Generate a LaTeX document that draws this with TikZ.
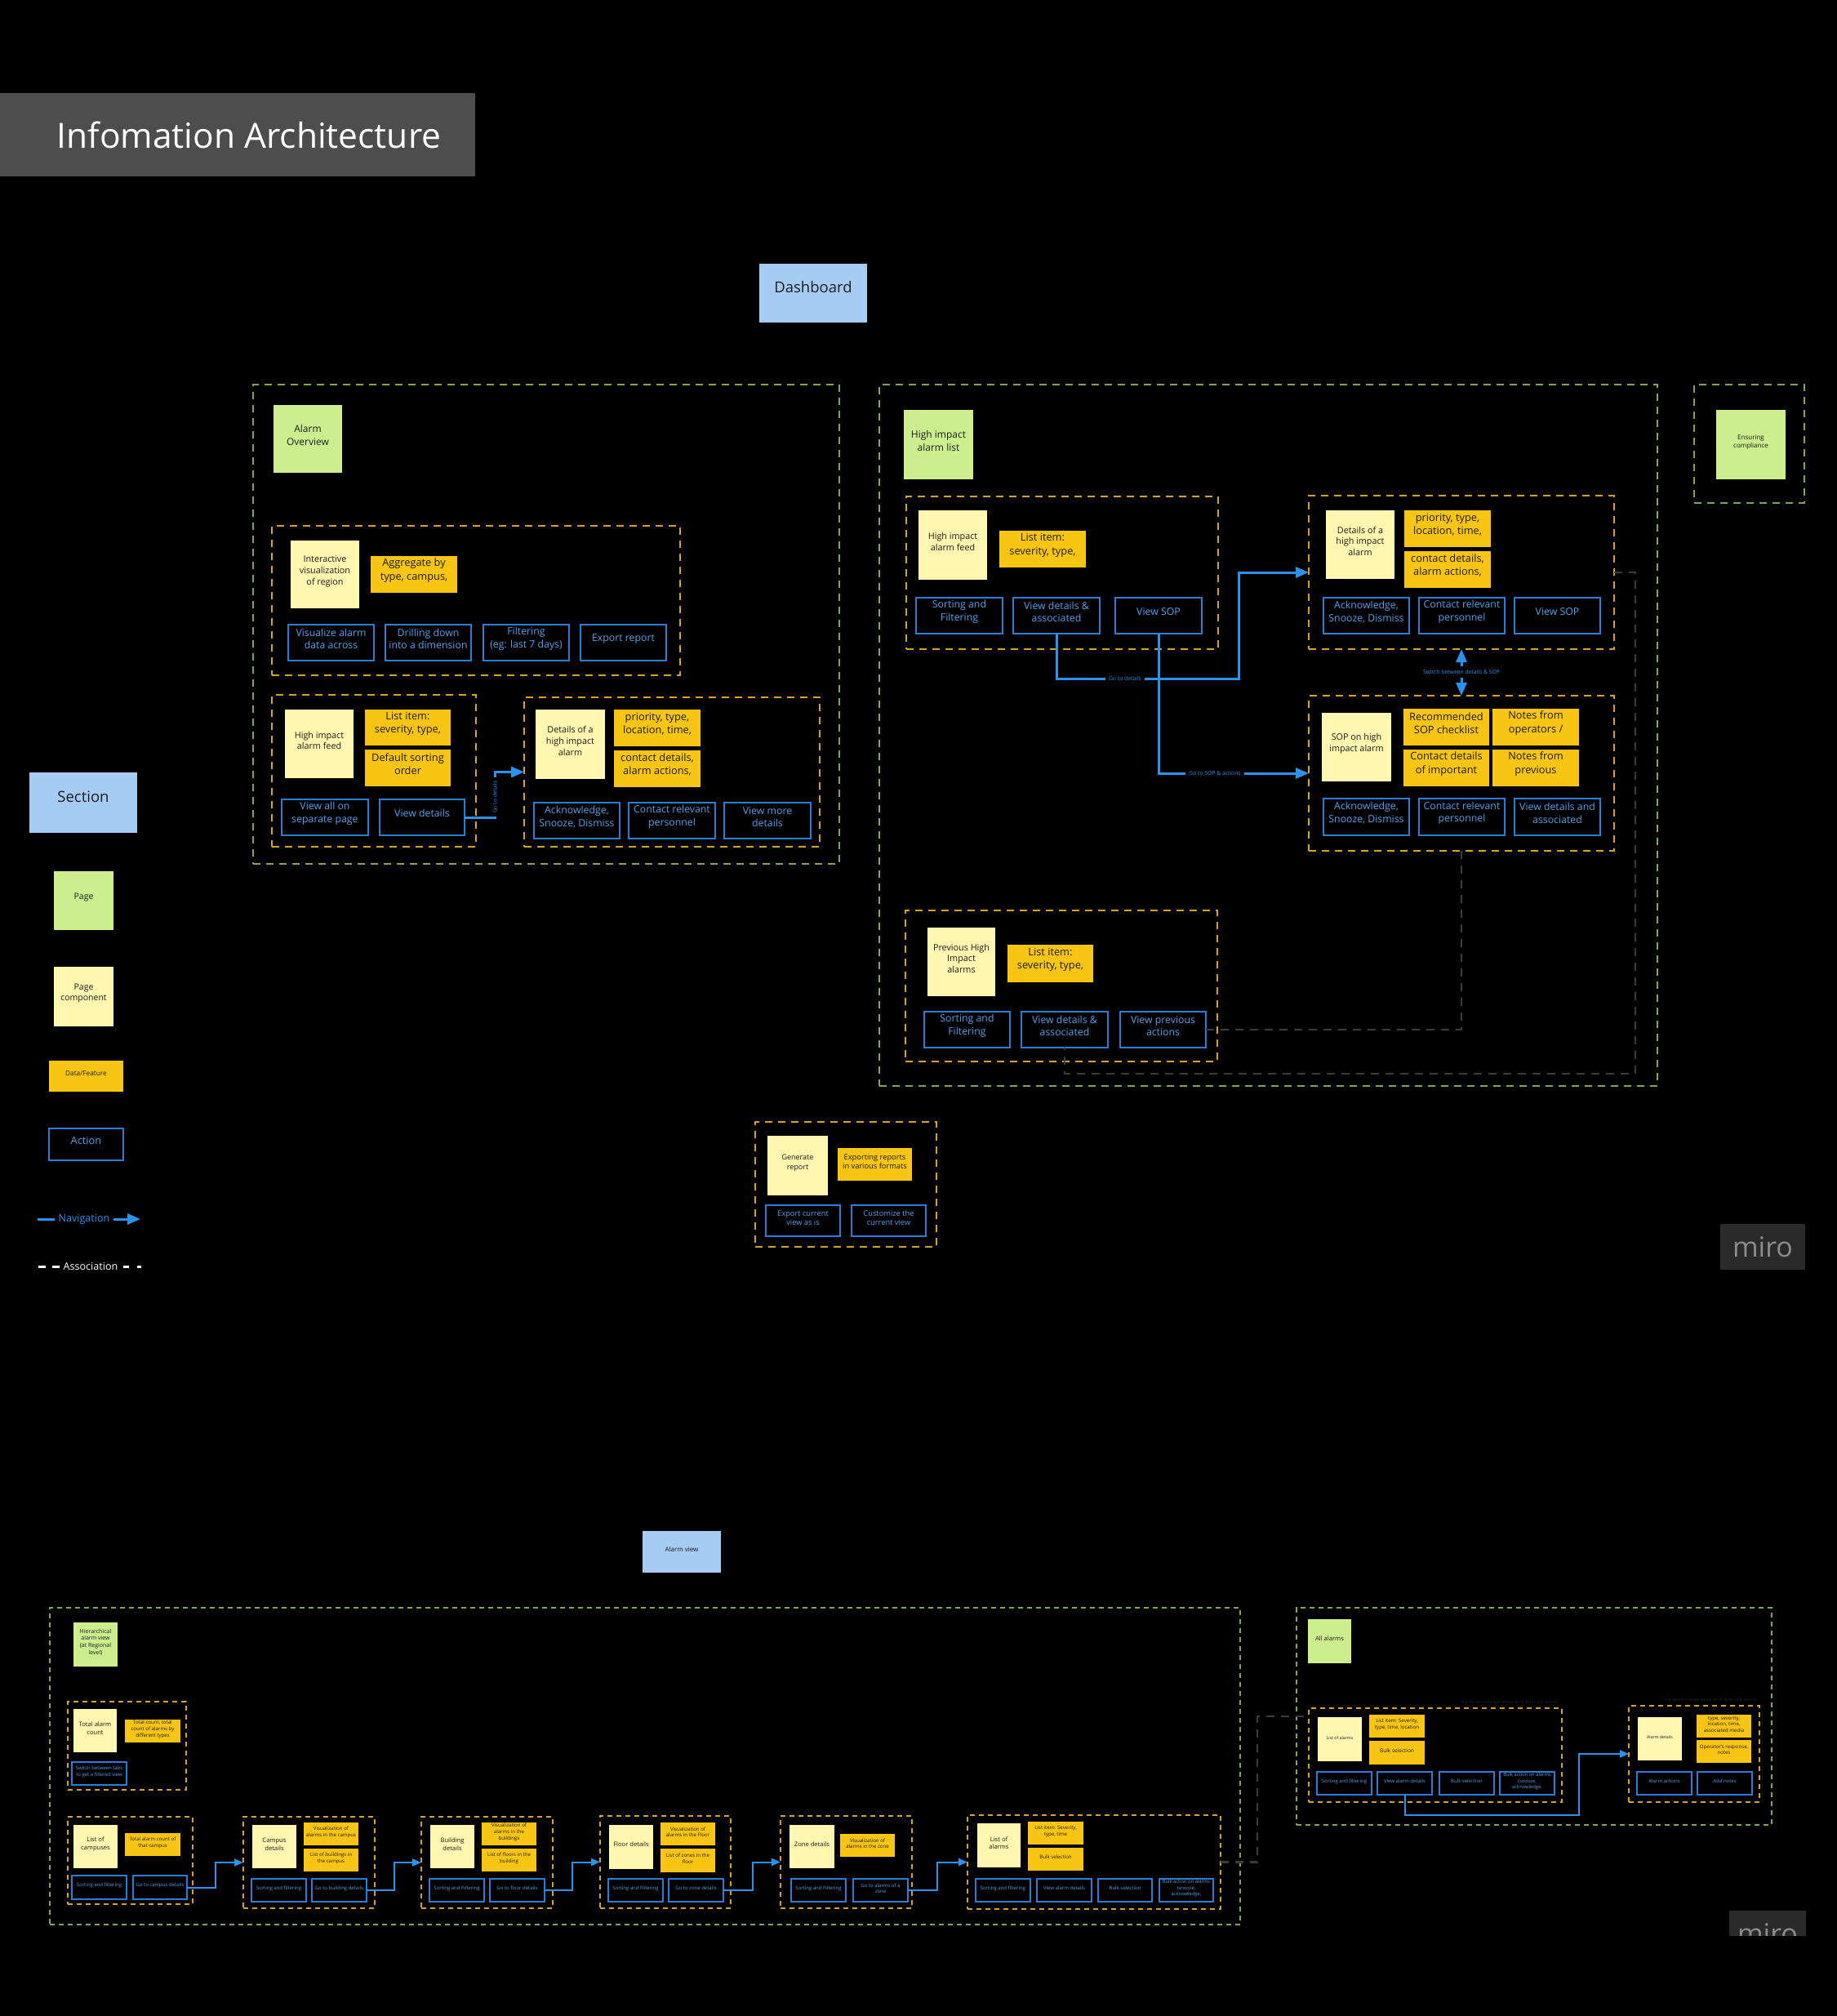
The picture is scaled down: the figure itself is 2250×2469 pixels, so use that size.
\documentclass[tikz,border=0pt]{standalone}
\usepackage{fontspec}
\setmainfont{Open Sans}
\usetikzlibrary{fit,arrows.meta}
\definecolor{titlegray}{HTML}{4D4D4D}
\definecolor{secblue}{HTML}{A6CCF3}
\definecolor{pagegreen}{HTML}{CDEE8E}
\definecolor{compyellow}{HTML}{FFF6B0}
\definecolor{dataorange}{HTML}{F9C514}
\definecolor{actblue}{HTML}{2F7CD3}
\definecolor{acttext}{HTML}{5AA2EA}
\definecolor{grporange}{HTML}{D3A233}
\definecolor{sectgreen}{HTML}{7FA851}
\definecolor{navblue}{HTML}{2C93EC}
\definecolor{assocgray}{HTML}{3C3C3C}
\definecolor{textdark}{HTML}{1C1C1C}
\definecolor{mirobox}{HTML}{2A2A2A}
\definecolor{mirotext}{HTML}{8C8C8C}
\definecolor{faint}{HTML}{2A2A2A}
\newcommand\pxf[1]{\fontsize{\fpeval{0.2845*#1}}{\fpeval{0.2845*1.28*#1}}\selectfont}
\newcommand\B[7]{\node[#1,fit={(#3,#4)(#5,#6)}] (#2) {#7};}
\tikzset{
 bx/.style={inner sep=0pt,outer sep=0pt,align=center},
 secN/.style={bx,fill=secblue,text=textdark},
 pageN/.style={bx,fill=pagegreen,text=textdark},
 compN/.style={bx,fill=compyellow,text=textdark},
 dataN/.style={bx,fill=dataorange,text=textdark},
 actN/.style={bx,draw=actblue,line width=0.2mm,text=acttext},
 pgL/.style={pageN,font=\pxf{12}},
 cpL/.style={compN,font=\pxf{10.8}},
 dtL/.style={dataN,font=\pxf{12.8}},
 acL/.style={actN,font=\pxf{12.3}},
 pgS/.style={pageN,font=\pxf{7}},
 cpS/.style={compN,font=\pxf{7.6}},
 dtS/.style={dataN,font=\pxf{6.1}},
 acS/.style={actN,line width=0.14mm,font=\pxf{6}},
 grp/.style={bx,draw=grporange,line width=0.2mm,dash pattern=on 0.9mm off 0.7mm},
 grpS/.style={bx,draw=grporange,line width=0.15mm,dash pattern=on 0.6mm off 0.5mm},
 sectB/.style={bx,draw=sectgreen,line width=0.2mm,dash pattern=on 0.9mm off 0.7mm},
 sectS/.style={bx,draw=sectgreen,line width=0.15mm,dash pattern=on 0.6mm off 0.5mm},
 nav/.style={draw=navblue,line width=0.3mm,-{Triangle[length=1.6mm,width=1.3mm]}},
 navS/.style={draw=navblue,line width=0.2mm,-{Triangle[length=1.1mm,width=0.9mm]}},
 assoc/.style={draw=assocgray,line width=0.25mm,dash pattern=on 1mm off 0.8mm},
 lbl/.style={fill=black,text=navblue,inner sep=0.4mm,font=\pxf{6.8}},
}
\begin{document}
\begin{tikzpicture}[x=0.1mm,y=-0.1mm]
\useasboundingbox (0,0) rectangle (2250,2469);
\fill[black] (0,0) rectangle (2250,2469);

% title
\node[bx,fill=titlegray,fit={(0,114)(582,216)}] (titlebox) {};
\node[anchor=west,text=white,font=\pxf{42.5},inner sep=0pt] (title) at (69,165) {Infomation Architecture};

% dashboard
\B{secN,font=\pxf{18.5}}{dash}{930}{323}{1062}{395}{Dashboard}

% legend
\B{secN,font=\pxf{18.5}}{lsec}{36}{946}{168}{1020}{Section}
\B{pageN,font=\pxf{10.5}}{lpage}{66}{1067}{139}{1139}{Page}
\B{compN,font=\pxf{10.5}}{lcomp}{66}{1184}{139}{1257}{Page\\component}
\B{dataN,font=\pxf{8.3}}{ldata}{60}{1299}{151}{1337}{Data/Feature}
\B{actN,font=\pxf{12.8}}{lact}{60}{1382}{151}{1421}{Action}
\node[text=navblue,font=\pxf{12.6},inner sep=0pt] (lnav) at (103,1493) {Navigation};
\coordinate (ln0) at (46,1493);
\coordinate (ln1) at (139,1493);
\coordinate (ln2) at (172,1493);
\draw[draw=navblue,line width=0.3mm,shorten >=0.4mm] (ln0) -- (lnav.west);
\draw[nav] (ln1) -- (ln2);
\node[text=white,font=\pxf{12.6},inner sep=0pt] (lasc) at (111,1551) {Association};
\draw[white,line width=0.3mm] (47,1551) -- (56,1551) (64,1551) -- (73,1551) (151,1551) -- (158,1551) (168,1551) -- (173,1551);

% ===== Alarm Overview section =====
\B{sectB}{s1}{310}{471}{1028}{1058}{}
\B{pgL}{ao}{335}{496}{419}{579}{Alarm\\Overview}
\B{grp}{g1}{333}{644}{833}{827}{}
\B{cpL}{iv}{356}{662}{440}{745}{Interactive\\visualization\\of region}
\B{dtL}{ag}{454}{681}{560}{726}{Aggregate by\\type, campus,}
\B{acL}{a1}{353}{765}{458}{809}{Visualize alarm\\data across}
\B{acL}{a2}{472}{765}{577}{809}{Drilling down\\into a dimension}
\B{acL}{a3}{592}{765}{697}{809}{Filtering\\(eg: last 7 days)}
\B{acL}{a4}{711}{765}{816}{809}{Export report}
\B{grp}{g2}{333}{851}{583}{1037}{}
\B{cpL}{hf}{349}{869}{433}{953}{High impact\\alarm feed}
\B{dtL}{li}{447}{869}{552}{913}{List item:\\severity, type,}
\B{dtL}{ds}{447}{918}{552}{963}{Default sorting\\order}
\B{acL}{va}{345}{979}{451}{1023}{View all on\\separate page}
\B{acL}{vd}{465}{979}{569}{1023}{View details}
\B{grp}{g3}{642}{854}{1004}{1037}{}
\B{cpL}{dh}{656}{869}{741}{954}{Details of a\\high impact\\alarm}
\B{dtL}{pr}{752}{869}{858}{914}{priority, type,\\location, time,}
\B{dtL}{cd}{752}{919}{858}{964}{contact details,\\alarm actions,}
\B{acL}{b1}{654}{983}{759}{1027}{Acknowledge,\\Snooze, Dismiss}
\B{acL}{b2}{770}{983}{876}{1027}{Contact relevant\\personnel}
\B{acL}{b3}{887}{983}{993}{1027}{View more\\details}
\draw[nav] (vd.east) -- ++(37,0) |- (g3.west);
\node[lbl,rotate=90] (lblA) at (606,976) {Go to details};

% ===== High impact alarm list section =====
\B{sectB}{s2}{1077}{471}{2030}{1330}{}
\B{pgL}{hl}{1107}{502}{1192}{587}{High impact\\alarm list}
\B{grp}{g4}{1110}{608}{1492}{795}{}
\B{cpL}{hf2}{1125}{625}{1209}{710}{High impact\\alarm feed}
\B{dtL}{li2}{1224}{650}{1330}{695}{List item:\\severity, type,}
\B{acL}{c1}{1122}{732}{1228}{776}{Sorting and\\Filtering}
\B{acL}{c2}{1241}{732}{1347}{776}{View details \&\\associated}
\B{acL}{c3}{1366}{732}{1472}{776}{View SOP}
\B{grp}{g5}{1603}{607}{1977}{795}{}
\B{cpL}{dh2}{1624}{625}{1708}{709}{Details of a\\high impact\\alarm}
\B{dtL}{pr2}{1720}{625}{1826}{670}{priority, type,\\location, time,}
\B{dtL}{cd2}{1720}{675}{1826}{720}{contact details,\\alarm actions,}
\B{acL}{d1}{1621}{732}{1726}{776}{Acknowledge,\\Snooze, Dismiss}
\B{acL}{d2}{1738}{732}{1843}{776}{Contact relevant\\personnel}
\B{acL}{d3}{1855}{732}{1960}{776}{View SOP}
\B{grp}{g6}{1603}{852}{1977}{1042}{}
\B{cpL}{sop}{1619}{873}{1704}{957}{SOP on high\\impact alarm}
\B{dtL}{rs}{1719}{868}{1824}{913}{Recommended\\SOP checklist}
\B{dtL}{no}{1828}{868}{1934}{913}{Notes from\\operators /}
\B{dtL}{ci}{1719}{918}{1824}{963}{Contact details\\of important}
\B{dtL}{np}{1828}{918}{1934}{963}{Notes from\\previous}
\B{acL}{e1}{1621}{978}{1726}{1023}{Acknowledge,\\Snooze, Dismiss}
\B{acL}{e2}{1738}{978}{1843}{1023}{Contact relevant\\personnel}
\B{acL}{e3}{1855}{978}{1960}{1023}{View details and\\associated}
\B{grp}{g7}{1109}{1115}{1491}{1300}{}
\B{cpL}{ph}{1136}{1136}{1219}{1220}{Previous High\\Impact\\alarms}
\B{dtL}{li3}{1234}{1157}{1339}{1203}{List item:\\severity, type,}
\B{acL}{f1}{1132}{1239}{1237}{1283}{Sorting and\\Filtering}
\B{acL}{f2}{1251}{1239}{1357}{1283}{View details \&\\associated}
\B{acL}{f3}{1372}{1239}{1477}{1283}{View previous\\actions}
% association lines
\coordinate (as1) at (2003,701);
\coordinate (as2) at (2003,1315);
\draw[assoc] (g5.east) -- (as1) -- (as2) -| (f2.south);
\draw[assoc] (g6.south) |- (f3.east);
% navigation
\coordinate (gd1) at (1517,831);
\draw[nav] (c2.south) |- (gd1) |- (g5.west);
\draw[nav] (c3.south) |- (g6.west);
\node[lbl] (lblB) at (1378,831) {Go to details};
\node[lbl] (lblC) at (1488,947) {Go to SOP \& actions};
\draw[draw=navblue,line width=0.3mm,{Triangle[length=1.6mm,width=1.3mm]}-{Triangle[length=1.6mm,width=1.3mm]}] (g5.south) -- (g6.north);
\node[lbl] (lblD) at (1790,823) {Switch between details \& SOP};

% ===== Ensuring compliance =====
\B{sectB}{s3}{2075}{471}{2210}{616}{}
\B{pageN,font=\pxf{8}}{ec}{2102}{502}{2187}{587}{Ensuring\\compliance}

% ===== Generate report =====
\B{grp}{g8}{925}{1374}{1147}{1527}{}
\B{compN,font=\pxf{9}}{gr}{940}{1391}{1014}{1464}{Generate\\report}
\B{dataN,font=\pxf{9.3}}{ex}{1026}{1406}{1117}{1446}{Exporting reports\\in various formats}
\B{actN,font=\pxf{9.3}}{x1}{938}{1476}{1029}{1514}{Export current\\view as is}
\B{actN,font=\pxf{9.3}}{x2}{1043}{1476}{1134}{1514}{Customize the\\current view}

% miro badges
\B{bx,fill=mirobox}{miro1}{2107}{1499}{2211}{1555}{}
\node[anchor=base,text=mirotext,font=\pxf{34},inner sep=0pt] (mirot1) at (2159,1539) {miro};
\begin{scope}
\clip (2100,2320) rectangle (2230,2370);
\B{bx,fill=mirobox}{miro2}{2118}{2340}{2212}{2396}{}
\node[anchor=base,text=mirotext,font=\pxf{34},inner sep=0pt] (mirot2) at (2165,2380) {miro};
\end{scope}

% ===== Alarm view =====
\B{secN,font=\pxf{8}}{av}{787}{1875}{883}{1926}{Alarm view}

\B{sectS}{s4}{61}{1969}{1519}{2357}{}
\B{pgS}{hv}{90}{1987}{144}{2041}{Hierarchical\\alarm view\\(at Regional\\level)}
\B{grpS}{g9}{83}{2084}{228}{2192}{}
\B{cpS}{ta}{90}{2093}{143}{2146}{Total alarm\\count}
\B{dtS}{tc}{153}{2106}{221}{2134}{Total count, total\\count of alarms by\\different types}
\B{acS}{sw}{88}{2158}{155}{2186}{Switch between tabs\\to get a filtered view}

\B{grpS}{g10}{83}{2225}{236}{2332}{}
\B{cpS}{lc}{90}{2235}{144}{2288}{List of\\campuses}
\B{dtS}{lct}{153}{2245}{221}{2273}{Total alarm count of\\that campus}
\B{acS}{lca1}{88}{2297}{155}{2326}{Sorting and filtering}
\B{acS}{lca2}{163}{2297}{229}{2326}{Go to campus details}

\B{grpS}{g11}{298}{2225}{459}{2337}{}
\B{cpS}{cdt}{309}{2235}{363}{2288}{Campus\\details}
\B{dtS}{cdv}{372}{2232}{439}{2260}{Visualization of\\alarms in the campus}
\B{dtS}{cdl}{372}{2264}{439}{2292}{List of buildings in\\the campus}
\B{acS}{cda1}{308}{2301}{375}{2329}{Sorting and filtering}
\B{acS}{cda2}{382}{2301}{449}{2329}{Go to building details}

\B{grpS}{g12}{516}{2225}{677}{2337}{}
\B{cpS}{bd}{527}{2235}{581}{2288}{Building\\details}
\B{dtS}{bdv}{590}{2232}{657}{2260}{Visualization of\\alarms in the\\buildings}
\B{dtS}{bdl}{590}{2264}{657}{2292}{List of floors in the\\building}
\B{acS}{bda1}{526}{2301}{593}{2329}{Sorting and Filtering}
\B{acS}{bda2}{600}{2301}{667}{2329}{Go to floor details}

\B{grpS}{g13}{735}{2224}{895}{2337}{}
\B{cpS}{fd}{746}{2235}{800}{2289}{Floor details}
\B{dtS}{fdv}{809}{2232}{876}{2260}{Visualization of\\alarms in the Floor}
\B{dtS}{fdl}{809}{2264}{876}{2293}{List of zones in the\\floor}
\B{acS}{fda1}{745}{2301}{812}{2329}{Sorting and Filtering}
\B{acS}{fda2}{819}{2301}{886}{2329}{Go to zone details}

\B{grpS}{g14}{956}{2224}{1117}{2337}{}
\B{cpS}{zd}{967}{2235}{1022}{2288}{Zone details}
\B{dtS}{zdv}{1029}{2246}{1096}{2274}{Visualization of\\alarms in the zone}
\B{acS}{zda1}{969}{2301}{1036}{2329}{Sorting and Filtering}
\B{acS}{zda2}{1045}{2301}{1112}{2329}{Go to alarms of a\\zone}

\B{grpS}{g15}{1185}{2223}{1495}{2338}{}
\B{cpS}{la}{1197}{2233}{1250}{2287}{List of\\alarms}
\B{dtS}{lai}{1259}{2231}{1327}{2259}{List item: Severity,\\type, time}
\B{dtS}{lab}{1259}{2263}{1327}{2291}{Bulk selection}
\B{acS}{laa1}{1195}{2301}{1262}{2329}{Sorting and filtering}
\B{acS}{laa2}{1270}{2301}{1337}{2329}{View alarm details}
\B{acS}{laa3}{1345}{2301}{1411}{2329}{Bulk selection}
\B{acS,font=\pxf{5.8}}{laa4}{1420}{2301}{1486}{2329}{Bulk action on alarms\\(snooze,\\acknowledge,}

\draw[navS] (lca2.east) -- ++(35,0) |- (g11.west);
\draw[navS] (cda2.east) -- ++(34,0) |- (g12.west);
\draw[navS] (bda2.east) -- ++(34,0) |- (g13.west);
\draw[navS] (fda2.east) -- ++(36,0) |- (g14.west);
\draw[navS] (zda2.east) -- ++(36,0) |- (g15.west);

% ===== All alarms =====
\B{sectS}{s5}{1588}{1969}{2170}{2235}{}
\B{pgS,font=\pxf{7.6}}{aa}{1602}{1983}{1655}{2037}{All alarms}
\node[anchor=east,text=faint,font=\pxf{5},inner sep=0pt] (n1) at (1909,2085) {The list item changes based on ACK/Un-ACK alarms};
\B{grpS}{g16}{1603}{2092}{1913}{2207}{}
\B{compN,font=\pxf{5.2}}{la2}{1614}{2103}{1668}{2157}{List of alarms}
\B{dtS}{la2i}{1677}{2100}{1745}{2128}{List item: Severity,\\type, time, location}
\B{dtS,font=\pxf{6.5}}{la2b}{1677}{2132}{1745}{2161}{Bulk selection}
\B{acS}{lb1}{1613}{2170}{1680}{2198}{Sorting and filtering}
\B{acS}{lb2}{1687}{2170}{1754}{2198}{View alarm details}
\B{acS}{lb3}{1763}{2170}{1830}{2198}{Bulk selection}
\B{acS,font=\pxf{5.8}}{lb4}{1837}{2170}{1904}{2198}{Bulk action on alarms\\(snooze,\\acknowledge,}
\node[anchor=east,text=faint,font=\pxf{5},inner sep=0pt] (n2) at (2152,2082) {The details change based on ACK/Un-ACK alarms};
\B{grpS}{g17}{1995}{2089}{2155}{2207}{}
\B{compN,font=\pxf{5.2}}{ad}{2006}{2103}{2060}{2156}{Alarm details}
\B{dtS}{adt}{2078}{2100}{2145}{2128}{type, severity,\\location, time,\\associated media}
\B{dtS}{ado}{2078}{2131}{2145}{2159}{Operator's response,\\notes}
\B{acS}{ad1}{2005}{2170}{2072}{2198}{Alarm actions}
\B{acS}{ad2}{2079}{2170}{2146}{2198}{Add notes}
\coordinate (aw1) at (1934,2223);
\draw[navS] (lb2.south) |- (aw1) |- (g17.west);
\coordinate (aEnd) at (1603,2102);
\draw[assoc] (g15.east) -- ++(45,0) |- (aEnd);
\end{tikzpicture}
\end{document}
